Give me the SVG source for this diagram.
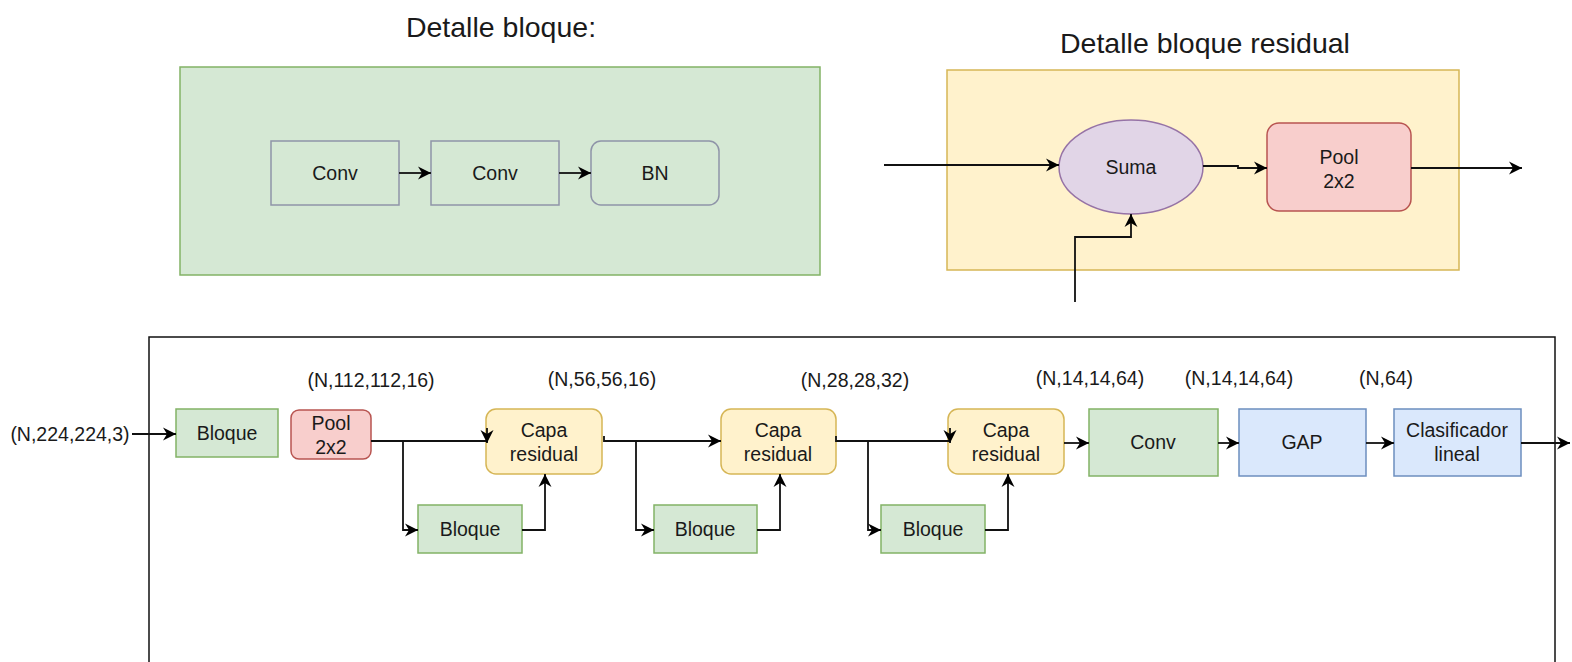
<svg xmlns="http://www.w3.org/2000/svg" width="1572" height="662" viewBox="0 0 1572 662">
  <defs>
    <style>
      text { font-family: "Liberation Sans", Arial, sans-serif; font-size: 19.5px; fill: #1a1a1a; text-anchor: middle; }
      .title { font-size: 28.5px; }
      .green { fill: #d5e8d4; stroke: #82b366; stroke-width: 1.5; }
      .inner { fill: #d5e8d4; stroke: #8f94a8; stroke-width: 1.5; }
      .yellow { fill: #fff2cc; stroke: #d6b656; stroke-width: 1.5; }
      .red { fill: #f8cecc; stroke: #b85450; stroke-width: 1.5; }
      .purple { fill: #e1d5e7; stroke: #9673a6; stroke-width: 1.5; }
      .blue { fill: #dae8fc; stroke: #6c8ebf; stroke-width: 1.5; }
      .edge { fill: none; stroke: #111; stroke-width: 1.8; }
      .arr { marker-end: url(#arrow); }
    </style>
    <marker id="arrow" markerUnits="userSpaceOnUse" markerWidth="16" markerHeight="16" refX="13" refY="7" orient="auto">
      <path d="M0,0.5 L13,7 L0,13.5 L4,7 Z" fill="#000"/>
    </marker>
  </defs>

  <!-- Titles -->
  <text class="title" x="501" y="37">Detalle bloque:</text>
  <text class="title" x="1205" y="53">Detalle bloque residual</text>

  <!-- Block detail panel -->
  <g id="panel-bloque">
    <rect class="green" x="180" y="67" width="640" height="208"/>
  </g>
  <g id="det-conv1">
    <rect class="inner" x="271" y="141" width="128" height="64"/>
    <text x="335" y="180">Conv</text>
  </g>
  <g id="det-conv2">
    <rect class="inner" x="431" y="141" width="128" height="64"/>
    <text x="495" y="180">Conv</text>
  </g>
  <g id="det-bn">
    <rect class="inner" x="591" y="141" width="128" height="64" rx="10"/>
    <text x="655" y="180">BN</text>
  </g>

  <!-- Residual block detail panel -->
  <g id="panel-residual">
    <rect class="yellow" x="947" y="70" width="512" height="200"/>
  </g>
  <g id="det-suma">
    <ellipse class="purple" cx="1131" cy="167" rx="72" ry="47"/>
    <text x="1131" y="174">Suma</text>
  </g>
  <g id="det-pool">
    <rect class="red" x="1267" y="123" width="144" height="88" rx="12"/>
    <text x="1339" y="164">Pool</text>
    <text x="1339" y="188">2x2</text>
  </g>

  <!-- Main network frame -->
  <g id="frame">
    <rect x="149" y="337" width="1406" height="340" fill="none" stroke="#111" stroke-width="1.5"/>
  </g>

  <!-- Shape labels -->
  <g id="shape-labels">
    <text x="70" y="441">(N,224,224,3)</text>
    <text x="371" y="387">(N,112,112,16)</text>
    <text x="602" y="386">(N,56,56,16)</text>
    <text x="855" y="387">(N,28,28,32)</text>
    <text x="1090" y="385">(N,14,14,64)</text>
    <text x="1239" y="385">(N,14,14,64)</text>
    <text x="1386" y="385">(N,64)</text>
  </g>

  <!-- Main network nodes -->
  <g id="bloque-in">
    <rect class="green" x="176" y="409" width="102" height="48"/>
    <text x="227" y="440">Bloque</text>
  </g>
  <g id="pool-in">
    <rect class="red" x="291" y="410" width="80" height="49" rx="8"/>
    <text x="331" y="430">Pool</text>
    <text x="331" y="454">2x2</text>
  </g>
  <g id="capa1">
    <rect class="yellow" x="486" y="409" width="116" height="65" rx="10"/>
    <text x="544" y="437">Capa</text>
    <text x="544" y="461">residual</text>
  </g>
  <g id="bloque1">
    <rect class="green" x="418" y="505" width="104" height="48"/>
    <text x="470" y="536">Bloque</text>
  </g>
  <g id="capa2">
    <rect class="yellow" x="721" y="409" width="115" height="65" rx="10"/>
    <text x="778" y="437">Capa</text>
    <text x="778" y="461">residual</text>
  </g>
  <g id="bloque2">
    <rect class="green" x="654" y="505" width="103" height="48"/>
    <text x="705" y="536">Bloque</text>
  </g>
  <g id="capa3">
    <rect class="yellow" x="948" y="409" width="116" height="65" rx="10"/>
    <text x="1006" y="437">Capa</text>
    <text x="1006" y="461">residual</text>
  </g>
  <g id="bloque3">
    <rect class="green" x="881" y="505" width="104" height="48"/>
    <text x="933" y="536">Bloque</text>
  </g>
  <g id="conv">
    <rect class="green" x="1089" y="409" width="129" height="67"/>
    <text x="1153" y="449">Conv</text>
  </g>
  <g id="gap">
    <rect class="blue" x="1239" y="409" width="127" height="67"/>
    <text x="1302" y="449">GAP</text>
  </g>
  <g id="clasificador">
    <rect class="blue" x="1394" y="409" width="127" height="67"/>
    <text x="1457" y="437">Clasificador</text>
    <text x="1457" y="461">lineal</text>
  </g>

  <!-- Connectors -->
  <g id="connectors">
    <!-- block detail -->
    <path class="edge arr" d="M399,173 L431,173"/>
    <path class="edge arr" d="M559,173 L591,173"/>
    <!-- residual detail -->
    <path class="edge arr" d="M884,165 L1059,165"/>
    <path class="edge arr" d="M1203,166 L1238,166 L1238,168 L1267,168"/>
    <path class="edge arr" d="M1411,168 L1522,168"/>
    <path class="edge arr" d="M1075,302 L1075,237 L1131,237 L1131,214"/>
    <!-- main network -->
    <path class="edge arr" d="M132,434 L176,434"/>
    <path class="edge" d="M371,441 L487,441"/>
    <path class="edge arr" d="M487,428 L487,443"/>
    <path class="edge arr" d="M403,441 L403,530 L418,530"/>
    <path class="edge arr" d="M522,530 L545,530 L545,474"/>
    <path class="edge arr" d="M604,436 L604,441 L721,441"/>
    <path class="edge arr" d="M636,441 L636,530 L654,530"/>
    <path class="edge arr" d="M757,530 L780,530 L780,474"/>
    <path class="edge" d="M836,436 L836,441 L950,441"/>
    <path class="edge arr" d="M950,428 L950,443"/>
    <path class="edge arr" d="M868,441 L868,530 L881,530"/>
    <path class="edge arr" d="M985,530 L1008,530 L1008,474"/>
    <path class="edge arr" d="M1064,443 L1089,443"/>
    <path class="edge arr" d="M1218,443 L1239,443"/>
    <path class="edge arr" d="M1366,443 L1394,443"/>
    <path class="edge arr" d="M1521,443 L1570,443"/>
  </g>
</svg>
